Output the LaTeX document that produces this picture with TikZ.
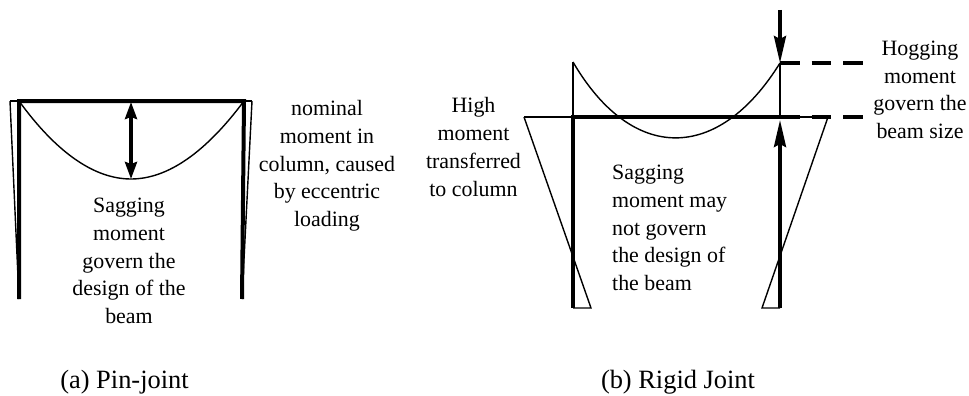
\documentclass[tikz,border=0pt]{standalone}
\usepackage{fontspec}
\setmainfont{Liberation Serif}
\usetikzlibrary{arrows.meta}
\tikzset{
  member/.style={line width=4pt},
  diagram/.style={line width=1.4pt},
  reaction/.style={line width=3.4pt,-{Stealth[length=27pt,width=12pt,inset=3pt]}},
  span/.style={line width=3.4pt,{Stealth[length=17pt,width=12pt,inset=2pt]}-{Stealth[length=17pt,width=12pt,inset=2pt]}},
  extension/.style={line width=4.6pt,dash pattern=on 19.5pt off 12pt},
  caption/.style={font=\fontsize{21.9pt}{27.7pt}\selectfont,align=center,inner sep=0pt},
  figlabel/.style={font=\fontsize{26.4pt}{30pt}\selectfont,anchor=base,inner sep=0pt},
}
\begin{document}
\begin{tikzpicture}[x=1pt,y=-1pt]
      \useasboundingbox (0,0) rectangle (969,396);
      % pin-joint frame
      \coordinate (pa) at (19,101);
      \coordinate (pb) at (244,101);
      \coordinate (pc) at (19,299);
      \coordinate (pd) at (242,299);
      \coordinate (pe) at (10,101);
      \coordinate (pf) at (252,101);
      \coordinate (pg) at (131,179);
      \coordinate (ph) at (131,102);
      \draw[diagram] (pe) -- (pa);
      \draw[diagram] (pf) -- (pb);
      \draw[diagram] (pe) -- (pc);
      \draw[diagram] (pf) -- (pd);
      \draw[member] (pc) -- (pa) -- (pb) -- (pd);
      \draw[diagram] (pa) .. controls (56,152) and (94,179) .. (pg) .. controls (168,179) and (206,152) .. (pb);
      \draw[span] (pg) -- (ph);
      \node[caption] (psag) at (129,261) {Sagging\\moment\\govern the\\design of the\\beam};
      \node[caption] (pnom) at (327,166) {nominal\\moment in\\column, caused\\by eccentric\\loading};
      \node[figlabel] (pcap) at (124.5,388) {(a) Pin-joint};
      % rigid joint frame
      \coordinate (ra) at (573,117);
      \coordinate (rb) at (780,117);
      \coordinate (rc) at (573,308);
      \coordinate (rd) at (780,308);
      \coordinate (re) at (524,117);
      \coordinate (rf) at (828,117);
      \coordinate (rg) at (591,308);
      \coordinate (rh) at (762,308);
      \coordinate (ri) at (573,62);
      \coordinate (rj) at (780,63);
      \coordinate (rk) at (780,10);
      \coordinate (rl) at (863,63);
      \coordinate (rm) at (863,117);
      \coordinate (rn) at (780,120);
      \draw[diagram] (re) -- (rf);
      \draw[diagram] (re) -- (rg) -- (rc);
      \draw[diagram] (rf) -- (rh) -- (rd);
      \draw[diagram] (ra) -- (ri);
      \draw[diagram] (rb) -- (rj);
      \draw[diagram] (ri) .. controls (632,163) and (718,163) .. (rj);
      \draw[member] (rc) -- (ra) -- (rb);
      \draw[reaction] (rd) -- (rn);
      \draw[reaction] (rk) -- (rj);
      \draw[extension] (rj) -- (rl);
      \draw[extension] (rb) -- (rm);
      \node[caption] (rhigh) at (473.5,147) {High\\moment\\transferred\\to column};
      \node[caption,align=left,anchor=west] (rsag) at (612,228) {Sagging\\moment may\\not govern\\the design of\\the beam};
      \node[caption] (rhog) at (920,90) {Hogging\\moment\\govern the\\beam size};
      \node[figlabel] (rcap) at (678,388) {(b) Rigid Joint};
    \end{tikzpicture}
\end{document}
